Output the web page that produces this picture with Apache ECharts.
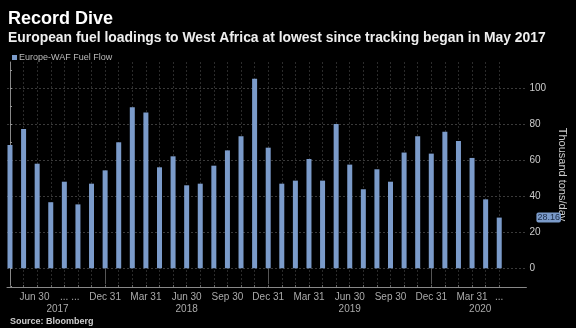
<!DOCTYPE html>
<html>
<head>
<meta charset="utf-8">
<script src="https://cdn.jsdelivr.net/npm/echarts@6/dist/echarts.min.js"></script>
<style>
html,body{margin:0;padding:0;background:#000;}
#c{width:576px;height:328px;}
</style>
</head>
<body>
<div id="c"></div>
<script>
// Months (May 2017 .. May 2020)
const months = ['May 2017','Jun 2017','Jul 2017','Aug 2017','Sep 2017','Oct 2017','Nov 2017','Dec 2017',
  'Jan 2018','Feb 2018','Mar 2018','Apr 2018','May 2018','Jun 2018','Jul 2018','Aug 2018','Sep 2018','Oct 2018','Nov 2018','Dec 2018',
  'Jan 2019','Feb 2019','Mar 2019','Apr 2019','May 2019','Jun 2019','Jul 2019','Aug 2019','Sep 2019','Oct 2019','Nov 2019','Dec 2019',
  'Jan 2020','Feb 2020','Mar 2020','Apr 2020','May 2020'];
// Europe-WAF Fuel Flow, thousand tons/day
const fuelFlow = [68.5, 77.4, 58.1, 36.7, 48.1, 35.5, 47.0, 54.4, 70.0, 89.4, 86.5, 56.1, 62.2, 46.1, 47.0, 57.0, 65.5, 73.3, 105.3, 67.0,
  47.0, 48.7, 60.7, 48.7, 80.2, 57.6, 43.9, 55.0, 48.1, 64.3, 73.3, 63.7, 75.9, 70.7, 61.3, 38.3, 28.16];
// x tick labels (position in month index, text)
const xLabelPos = [1.8, 4.4, 7, 10, 13, 16, 19, 22, 25, 28, 31, 34, 36];
const xLabelText = ['Jun 30', '... ...', 'Dec 31', 'Mar 31', 'Jun 30', 'Sep 30', 'Dec 31', 'Mar 31', 'Jun 30', 'Sep 30', 'Dec 31', 'Mar 31', '...'];
const yearPos = [3.5, 13, 25, 34.6];
const yearText = ['2017', '2018', '2019', '2020'];
const yearSep = [7, 19, 31];
const yLabels = [0, 20, 40, 60, 80, 100];
const yMinorTicks = [-10, 0, 10, 20, 30, 40, 50, 60, 70, 80, 90, 100, 110];

const idx = months.map((m, i) => i);
const lastVal = fuelFlow[fuelFlow.length - 1];

const chart = echarts.init(document.getElementById('c'));
const xMin = -0.22, xMax = 38;
const yMin = -10.4, yMax = 114.6;
chart.setOption({
  backgroundColor: '#000',
  animation: false,
  title: [
    {text: 'Record Dive', left: 8, top: 10, padding: 0, textStyle: {color: '#fff', fontSize: 18, fontWeight: 'bold', fontFamily: 'Liberation Sans'}},
    {text: 'European fuel loadings to West Africa at lowest since tracking began in May 2017', left: 8, top: 31, padding: 0,
      textStyle: {color: '#eee', fontSize: 13.9, fontWeight: 'bold', fontFamily: 'Liberation Sans'}},
    {text: 'Source: Bloomberg', left: 10, top: 317, padding: 0, textStyle: {color: '#ccc', fontSize: 9, fontWeight: 'bold', fontFamily: 'Liberation Sans'}}
  ],
  legend: {
    left: 12, top: 53, padding: 0, itemWidth: 5, itemHeight: 5, icon: 'rect', itemGap: 4,
    textStyle: {color: '#bbb', fontSize: 9, fontFamily: 'Liberation Sans', padding: [0, 0, 0, -3]},
    data: ['Europe-WAF Fuel Flow']
  },
  grid: {left: 7, right: 49, top: 62, bottom: 41},
  xAxis: [
    {
      type: 'value', min: xMin, max: xMax, position: 'bottom',
      axisLine: {show: true, onZero: false, lineStyle: {color: '#888', width: 1}},
      axisTick: {show: true, customValues: idx, length: 2, inside: true, lineStyle: {color: '#666'}},
      axisLabel: {show: true, customValues: xLabelPos, color: '#aaa', fontSize: 10, margin: 5, fontFamily: 'Liberation Sans',
        formatter: (v, i) => xLabelText[xLabelPos.indexOf(v)] ?? ''},
      splitLine: {show: true, lineStyle: {color: '#2b2b2b', type: [2, 2], width: 1}}
    },
    {
      type: 'value', min: xMin, max: xMax, position: 'bottom', offset: 14,
      axisLine: {show: false},
      axisTick: {show: true, customValues: yearSep, length: 16, inside: false, lineStyle: {color: '#555'}},
      axisLabel: {show: true, customValues: yearPos, color: '#aaa', fontSize: 10, margin: 3, fontFamily: 'Liberation Sans',
        formatter: (v) => yearText[yearPos.indexOf(v)] ?? ''},
      splitLine: {show: false}
    }
  ],
  yAxis: [
    {
      type: 'value', min: yMin, max: yMax, position: 'right',
      name: 'Thousand tons/day', nameLocation: 'middle', nameRotate: -90, nameGap: 30,
      nameTextStyle: {color: '#ccc', fontSize: 11, fontFamily: 'Liberation Sans'},
      axisLine: {show: true, lineStyle: {color: '#888'}},
      axisTick: {show: true, customValues: yMinorTicks, length: 2, lineStyle: {color: '#999'}},
      axisLabel: {show: true, customValues: yLabels, color: '#ccc', fontSize: 10, margin: 3, fontFamily: 'Liberation Sans'},
      splitLine: {show: false}
    },
    {
      type: 'value', min: yMin, max: yMax, position: 'right',
      axisLine: {show: false},
      axisTick: {show: false, customValues: yLabels},
      axisLabel: {show: false, customValues: yLabels},
      splitLine: {show: true, lineStyle: {color: '#3a3a3a', type: [2, 2], width: 1}}
    }
  ],
  series: [{
    name: 'Europe-WAF Fuel Flow',
    type: 'bar',
    xAxisIndex: 0, yAxisIndex: 0,
    barWidth: 5,
    itemStyle: {color: '#7b9bca'},
    data: fuelFlow.map((v, i) => [i, v]),
    markLine: {
      silent: true, symbol: 'none', zlevel: 2, z: 20,
      lineStyle: {color: 'rgba(0,0,0,0)', width: 0},
      label: {show: true, position: 'end', distance: 10, formatter: lastVal.toFixed(2), color: '#1a2a45', backgroundColor: '#7b9bca',
        padding: [1, 1, 0, 1], borderRadius: 2, fontSize: 9, fontFamily: 'Liberation Sans'},
      data: [{yAxis: lastVal}]
    }
  }]
});
</script>
</body>
</html>
